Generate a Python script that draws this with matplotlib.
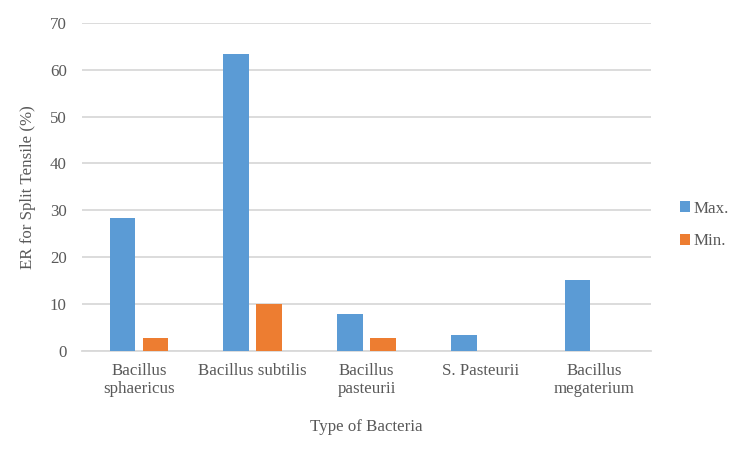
import numpy as np
import matplotlib.pyplot as plt

categories = ['Bacillus\nsphaericus', 'Bacillus subtilis', 'Bacillus\npasteurii',
              'S. Pasteurii', 'Bacillus\nmegaterium']
max_vals = [28.4, 63.4, 7.8, 3.3, 15.1]
min_vals = [2.7, 10.0, 2.7, 0, 0]

plt.rcParams['font.family'] = ['Liberation Serif', 'DejaVu Serif']
grey = '#595959'
fs = 12.2

fig = plt.figure(figsize=(7.5, 4.5), dpi=100)
ax = fig.add_axes([82/750, 1 - 350.7/450, (651-82)/750, (350.7-23)/450])

x = np.arange(len(categories))
w = 0.225
ax.bar(x - 0.145, max_vals, w, color='#5b9bd5', label='Max.', zorder=3)
ax.bar(x + 0.145, min_vals, w, color='#ed7d31', label='Min.', zorder=3)

ax.set_xlim(-0.5, len(categories) - 0.5)
ax.set_ylim(0, 70)
ax.set_yticks(range(0, 71, 10))
ax.set_xticks(x)
ax.set_xticklabels(categories, fontsize=fs, color=grey, linespacing=1.15)
ax.tick_params(axis='y', labelsize=fs, colors=grey, length=0, pad=11)
ax.tick_params(axis='x', length=0, pad=9)
ax.grid(axis='y', color='#d9d9d9', linewidth=1.3, zorder=0)
for s in ['top', 'right', 'left']:
    ax.spines[s].set_visible(False)
ax.spines['bottom'].set_color('#d9d9d9')
ax.spines['bottom'].set_linewidth(1.3)

ax.set_xlabel('Type of Bacteria', fontsize=fs, color=grey, labelpad=16)
ax.set_ylabel('ER for Split Tensile (%)', fontsize=fs, color=grey, labelpad=10)

leg = fig.legend(loc='center left', bbox_to_anchor=(680/750, 0.5),
                 bbox_transform=fig.transFigure, frameon=False,
                 fontsize=fs, handlelength=0.6, handleheight=0.6,
                 handletextpad=0.2, labelspacing=1.0, borderpad=0,
                 borderaxespad=0)
for t in leg.get_texts():
    t.set_color(grey)

fig.savefig('out.png', dpi=100)
